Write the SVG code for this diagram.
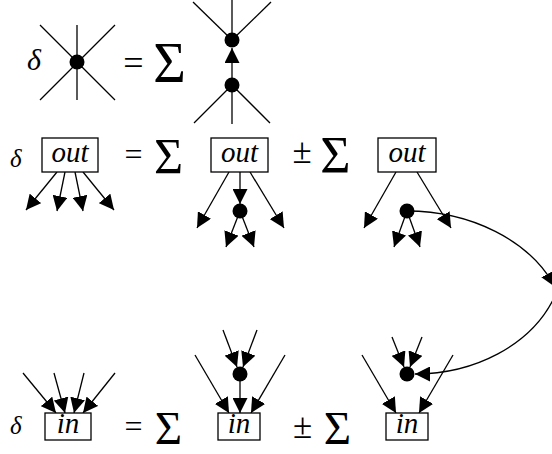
<svg xmlns="http://www.w3.org/2000/svg" width="552" height="454" viewBox="0 0 552 454">
<defs>
<marker id="arr" viewBox="0 0 15 15" markerWidth="15" markerHeight="15" refX="15" refY="7.5" orient="auto" markerUnits="userSpaceOnUse">
<path d="M0,0 L15,7.5 L0,15 z" fill="#000"/>
</marker>
</defs>
<style>
.ln{stroke:#000;stroke-width:1.3;fill:none}
.ar{stroke:#000;stroke-width:1.3;fill:none;marker-end:url(#arr)}
.dot{fill:#000}
.box{fill:#fff;stroke:#000;stroke-width:1.3}
.it{font-family:"Liberation Serif",serif;font-style:italic;fill:#000}
.rm{font-family:"Liberation Serif",serif;fill:#000}
</style>
<rect width="552" height="454" fill="#fff"/>

<g id="labels">
<text class="it" x="27" y="70" font-size="30">δ</text>
<text class="rm" x="133.5" y="75" font-size="36" text-anchor="middle">=</text>
<text class="rm" x="169.5" y="82" font-size="56" text-anchor="middle">Σ</text>

<text class="it" x="10" y="167" font-size="25">δ</text>
<text class="rm" x="133.5" y="165" font-size="32" text-anchor="middle">=</text>
<text class="rm" x="168.5" y="173" font-size="50" text-anchor="middle">Σ</text>
<text class="rm" x="302" y="163" font-size="35" text-anchor="middle">±</text>
<text class="rm" x="335.5" y="173" font-size="52" text-anchor="middle">Σ</text>

<text class="it" x="10" y="434" font-size="25">δ</text>
<text class="rm" x="133.5" y="437" font-size="32" text-anchor="middle">=</text>
<text class="rm" x="168.5" y="443.5" font-size="47" text-anchor="middle">Σ</text>
<text class="rm" x="302.5" y="438" font-size="35" text-anchor="middle">±</text>
<text class="rm" x="337.5" y="443.5" font-size="47" text-anchor="middle">Σ</text>
</g>

<g id="connectors">
<!-- row 1 star -->
<line class="ln" x1="77" y1="25" x2="77" y2="100"/>
<line class="ln" x1="40" y1="25" x2="115" y2="100"/>
<line class="ln" x1="115" y1="25" x2="40" y2="100"/>
<!-- row 1 pair -->
<line class="ln" x1="193" y1="2" x2="232" y2="40"/>
<line class="ln" x1="271" y1="2" x2="232" y2="40"/>
<line class="ln" x1="232" y1="0" x2="232" y2="40"/>
<line class="ar" x1="232" y1="85" x2="232" y2="48"/>
<line class="ln" x1="232" y1="85" x2="194" y2="123"/>
<line class="ln" x1="232" y1="85" x2="270" y2="123"/>
<line class="ln" x1="232" y1="85" x2="232" y2="124"/>

<!-- row 2 out 1 -->
<line class="ar" x1="57" y1="172" x2="26" y2="210"/>
<line class="ar" x1="65" y1="172" x2="57" y2="211"/>
<line class="ar" x1="75" y1="172" x2="83" y2="211"/>
<line class="ar" x1="83" y1="172" x2="114" y2="210"/>
<!-- row 2 out 2 -->
<line class="ar" x1="229" y1="172" x2="197" y2="228"/>
<line class="ar" x1="250" y1="172" x2="284" y2="228"/>
<line class="ar" x1="240" y1="172" x2="240" y2="204"/>
<line class="ar" x1="240" y1="211" x2="226" y2="247"/>
<line class="ar" x1="240" y1="211" x2="254" y2="247"/>
<!-- row 2 out 3 -->
<line class="ar" x1="396" y1="172" x2="364" y2="228"/>
<line class="ar" x1="417" y1="172" x2="451" y2="228"/>
<line class="ar" x1="407" y1="211" x2="394" y2="247"/>
<line class="ar" x1="407" y1="211" x2="420" y2="247"/>
<!-- curve -->
<path class="ar" d="M407,211 C470,211 530,240 555,287"/>
<path class="ar" d="M553,300 C530,345 475,374 415,374"/>

<!-- row 3 in 1 -->
<line class="ar" x1="23" y1="373" x2="56" y2="413"/>
<line class="ar" x1="54" y1="373" x2="65" y2="413"/>
<line class="ar" x1="84" y1="373" x2="74" y2="413"/>
<line class="ar" x1="115" y1="373" x2="83" y2="413"/>
<!-- row 3 in 2 -->
<line class="ar" x1="195" y1="355" x2="229" y2="413"/>
<line class="ar" x1="285" y1="355" x2="251" y2="413"/>
<line class="ar" x1="240" y1="374" x2="240" y2="413"/>
<line class="ar" x1="223" y1="330" x2="237" y2="367"/>
<line class="ar" x1="257" y1="330" x2="243" y2="367"/>
<!-- row 3 in 3 -->
<line class="ar" x1="362" y1="355" x2="396" y2="413"/>
<line class="ar" x1="453" y1="355" x2="419" y2="413"/>
<line class="ar" x1="392" y1="337" x2="404" y2="367"/>
<line class="ar" x1="422" y1="337" x2="410" y2="367"/>
</g>

<g id="star"><circle class="dot" cx="77" cy="62" r="7.5"/></g>
<g id="pairTop"><circle class="dot" cx="232" cy="40" r="7.5"/></g>
<g id="pairBottom"><circle class="dot" cx="232" cy="85" r="7.5"/></g>

<g id="out1"><rect class="box" x="42" y="138" width="56" height="34"/><text class="it" x="70" y="162" font-size="29" text-anchor="middle">out</text></g>
<g id="out2"><rect class="box" x="211" y="138" width="57" height="34"/><text class="it" x="239.5" y="162" font-size="29" text-anchor="middle">out</text></g>
<g id="out3"><rect class="box" x="378" y="138" width="58" height="34"/><text class="it" x="407" y="162" font-size="29" text-anchor="middle">out</text></g>
<g id="dot2"><circle class="dot" cx="240" cy="211" r="7.5"/></g>
<g id="dot3"><circle class="dot" cx="407" cy="211" r="7.5"/></g>

<g id="in1"><rect class="box" x="45" y="413" width="46" height="27"/><text class="it" x="68" y="433" font-size="29" text-anchor="middle">in</text></g>
<g id="in2"><rect class="box" x="218" y="413" width="42" height="27"/><text class="it" x="239" y="433" font-size="29" text-anchor="middle">in</text></g>
<g id="in3"><rect class="box" x="386" y="413" width="42" height="27"/><text class="it" x="407" y="433" font-size="29" text-anchor="middle">in</text></g>
<g id="dot4"><circle class="dot" cx="240" cy="374" r="7.5"/></g>
<g id="dot5"><circle class="dot" cx="407" cy="374" r="7.5"/></g>
</svg>
